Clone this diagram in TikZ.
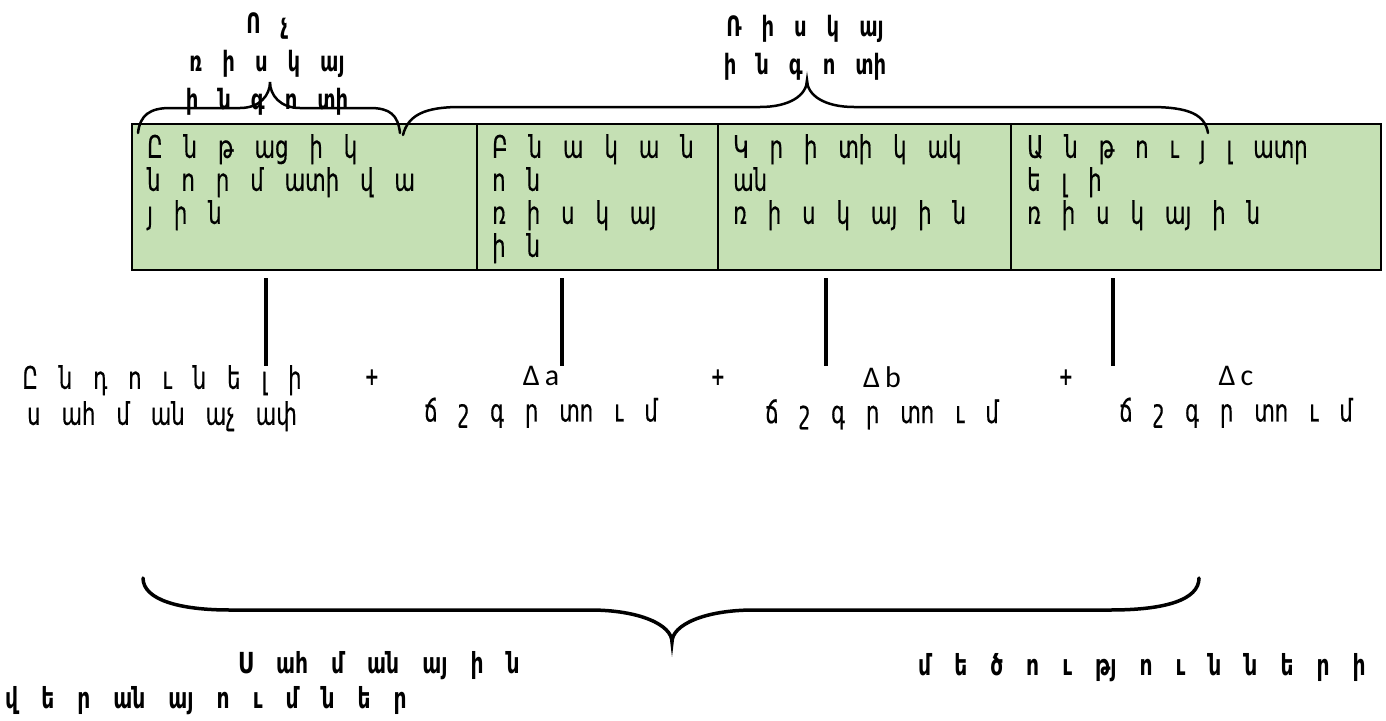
\documentclass[tikz,border=0pt]{standalone}
\usepackage{fontspec}
\usepackage{tikz}
\usetikzlibrary{positioning}
\newfontfamily\armfont[FakeStretch=0.68,FakeBold=0.4]{DejaVu Sans}
\newfontfamily\armbold[FakeStretch=0.7]{DejaVu Sans Bold}
\newfontfamily\latfont{Carlito}
\newcommand{\cellfont}{\armfont\fontsize{31}{33}\selectfont\spaceskip=21pt\relax}
\newcommand{\sumfont}{\armfont\fontsize{31}{36}\selectfont\spaceskip=21pt\relax}
\newcommand{\headfont}{\armbold\fontsize{28}{38}\selectfont\spaceskip=20pt\relax}
\newcommand{\footfont}{\armbold\fontsize{29}{35}\selectfont\spaceskip=23pt\relax}
\definecolor{cellgreen}{HTML}{C5E0B4}
\tikzstyle{cell}=[anchor=north west,align=left,inner sep=0pt,font=\cellfont]
\tikzstyle{sumtext}=[anchor=north,align=center,inner sep=0pt,font=\sumfont]
\tikzstyle{head}=[anchor=north,align=center,inner sep=0pt,font=\headfont]
\tikzstyle{foot}=[anchor=base west,inner sep=0pt,font=\footfont]
\tikzstyle{plus}=[inner sep=0pt,font=\armbold\fontsize{25}{28}\selectfont]
\tikzstyle{tick}=[draw,line width=3.5pt]
\tikzstyle{brace}=[draw,line width=2.5pt,line cap=round]

\begin{document}
\begin{tikzpicture}[x=1pt,y=-1pt]
    \useasboundingbox (0,0) rectangle (1386,720);
    % Draw the green table first
    \draw[fill=cellgreen,line width=1.6pt] (132,124) rectangle (1381,270);
    \foreach \x in {477,718,1011}
        \draw[line width=1.6pt] (\x,124) -- (\x,270);

    % Then the texts of the four cells
    \foreach \pos/\name/\txt in {{(147,134)/norm/{Ը ն թ աց ի կ\\ն ո ր մ ատի վ ա\\յ ի ն}},
        {(492,134)/base/{Բ ն ա կ ա ն\\ո ն\\ռ ի ս կ այ\\ի ն}},
        {(733,134)/crit/{Կ ր ի տի կ ակ\\ան\\ռ ի ս կ այ ի ն}},
        {(1027,134)/inad/{Ա ն թ ո ւ յ լ ատր\\ե լ ի\\ռ ի ս կ այ ի ն}}}
        \node[cell] (\name) at \pos {\txt};

    % Titles above the braces
    \node[head] (nonrisk) at (267,12) {Ո չ\\ռ ի ս կ այ\\ի ն գ ո տի};
    \node[head] (risk) at (805,15) {Ռ ի ս կ այ\\ի ն գ ո տի};

    % The sum under the table
    \node[sumtext] (limit) at (162,365) {Ը ն դ ո ւ ն ե լ ի\\ս ահ մ ան աչ ափ};
    \foreach \x/\name/\d in {541/da/a, 882/db/b, 1236/dc/c}
        \node[sumtext] (\name) at (\x,366) {{\latfont\fontsize{30}{36}\selectfont Δ\,\d}\\ճ շ գ ր տո ւ մ};
    \foreach \x/\name in {372/p1, 718/p2, 1066/p3}
        \node[plus] (\name) at (\x,378) {+};

    % Ticks from the cells down to the sum
    \foreach \x/\name in {266/t1, 562/t2, 826/t3, 1113/t4}
    {
        \coordinate (\name) at (\x,278);
        \path[tick] (\name) -- ++(0,88);
    }

    % Braces
    \path[brace] (138,133) .. controls (140,115) and (150,108) .. (170,108) -- (240,108)
        .. controls (260,108) and (270,95) .. (270,82) .. controls (270,95) and (280,108) .. (300,108)
        -- (370,108) .. controls (390,108) and (398,115) .. (400,133);
    \path[brace] (403,135) .. controls (408,115) and (425,107) .. (460,107) -- (760,107)
        .. controls (790,107) and (807,95) .. (807,80) .. controls (807,95) and (824,107) .. (854,107)
        -- (1150,107) .. controls (1190,107) and (1205,115) .. (1208,133);
    \path[brace,line width=3.5pt] (143,578) .. controls (143,600) and (180,610) .. (230,610) -- (590,610)
        .. controls (640,610) and (672,625) .. (672,642) .. controls (672,625) and (704,610) .. (754,610)
        -- (1110,610) .. controls (1165,610) and (1199,600) .. (1199,578);

    % Caption under the big brace
    \node[foot] (sum1) at (238,673) {Ս ահ մ ան այ ի ն};
    \node[foot] (sum2) at (918,675) {մ ե ծ ո ւ թյ ո ւ ն ն ե ր ի};
    \node[foot] (sum3) at (5,708) {վ ե ր ան այ ո ւ մ ն ե ր};
\end{tikzpicture}
\end{document}
